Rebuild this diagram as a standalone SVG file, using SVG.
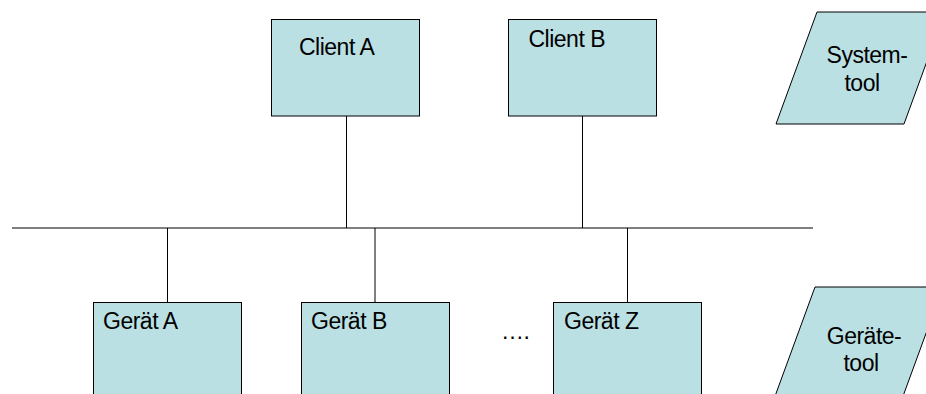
<svg xmlns="http://www.w3.org/2000/svg" width="926" height="394" viewBox="0 0 926 394">
<style>
.box{fill:#BBE0E3;stroke:#000;stroke-width:1}
.ln{stroke:#000;stroke-width:1;fill:none}
text{font-family:"Liberation Sans",Arial,sans-serif;font-size:23px;letter-spacing:-0.5px;fill:#000}
</style>
<rect width="926" height="394" fill="#fff"/>
<g id="connectors">
<line class="ln" x1="12" y1="228" x2="813" y2="228"/>
<line class="ln" x1="346.5" y1="116" x2="346.5" y2="228"/>
<line class="ln" x1="582.5" y1="116" x2="582.5" y2="228"/>
<line class="ln" x1="167.5" y1="228" x2="167.5" y2="302"/>
<line class="ln" x1="375" y1="228" x2="375" y2="302"/>
<line class="ln" x1="627.5" y1="228" x2="627.5" y2="302"/>
</g>
<g id="clientA">
<rect class="box" x="271.5" y="19.5" width="148" height="96.5"/>
<text x="299" y="55">Client A</text>
</g>
<g id="clientB">
<rect class="box" x="508.5" y="19.5" width="148" height="96.5"/>
<text x="528.5" y="46.5">Client B</text>
</g>
<g id="systemtool">
<polygon class="box" points="817,12 945,12 904,124 776,124"/>
<text x="867" y="63" text-anchor="middle">System-</text>
<text x="862" y="91" text-anchor="middle">tool</text>
</g>
<g id="geraetA">
<rect class="box" x="93.5" y="302.5" width="148" height="100"/>
<text x="103" y="329">Gerät A</text>
</g>
<g id="geraetB">
<rect class="box" x="301.5" y="302.5" width="148" height="100"/>
<text x="311" y="329">Gerät B</text>
</g>
<g id="dots">
<text x="501" y="339">….</text>
</g>
<g id="geraetZ">
<rect class="box" x="553.5" y="302.5" width="148" height="100"/>
<text x="564" y="329">Gerät Z</text>
</g>
<g id="geraetetool">
<polygon class="box" points="815,287 943,287 902,399 774,399"/>
<text x="864" y="344" text-anchor="middle">Geräte-</text>
<text x="861" y="371" text-anchor="middle">tool</text>
</g>
</svg>
